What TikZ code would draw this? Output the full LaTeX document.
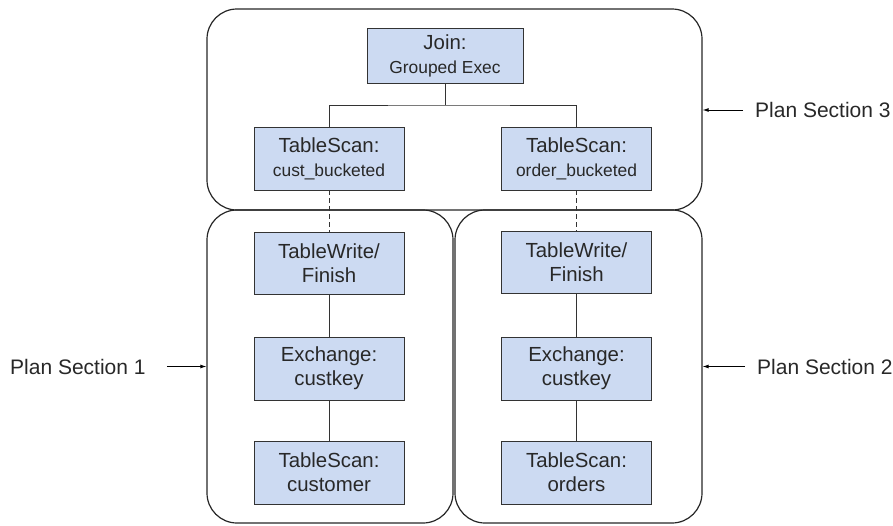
\documentclass[tikz,border=0pt]{standalone}
\usepackage{fontspec}
\setmainfont{Liberation Sans}
\usetikzlibrary{arrows.meta}
\usetikzlibrary{positioning}
\definecolor{opblue}{RGB}{204,218,242}
\definecolor{ink}{RGB}{40,40,40}
\newcommand{\subline}[1]{{\fontsize{17.4}{24}\selectfont #1}}

\begin{document}
\begin{tikzpicture}[x=1pt,y=-1pt,
    opbox/.style={draw=black!80, line width=0.9pt, fill=opblue, text=ink, minimum width=150pt, minimum height=63pt,
                  align=center, inner sep=2pt, font=\fontsize{20.4}{24}\selectfont},
    section/.style={draw=black!85, line width=1.2pt, rounded corners=30pt, inner sep=0pt},
    link/.style={draw=black!80, line width=0.9pt},
    pointer/.style={draw=black, line width=0.9pt, -{Latex[length=6pt,width=4pt]}},
    tag/.style={inner sep=0pt, anchor=west, text=ink, font=\fontsize{21}{24}\selectfont}]
  \useasboundingbox (0,0) rectangle (893,525);

  %plan sections
  \node[section, minimum width=495pt, minimum height=201pt] (sec3) at (454.5,109.5) {};
  \node[section, minimum width=246pt, minimum height=313pt] (sec1) at (330,366.5) {};
  \node[section, minimum width=247pt, minimum height=313pt] (sec2) at (578.5,366.5) {};

  %operators
  \node[opbox, minimum width=156pt, minimum height=55pt] (join) at (445,55.5) {Join:\\\subline{Grouped Exec}};
  \node[opbox] (scanc) at (329,158.5) {TableScan:\\\subline{cust\_bucketed}};
  \node[opbox] (scano) at (576.5,158.5) {TableScan:\\\subline{order\_bucketed}};
  \node[opbox, minimum height=62pt] (writec) at (329,263) {TableWrite/\\Finish};
  \node[opbox, minimum height=62pt] (writeo) at (576.5,262) {TableWrite/\\Finish};
  \node[opbox] (exc) at (329,368.5) {Exchange:\\custkey};
  \node[opbox] (exo) at (576.5,368.5) {Exchange:\\custkey};
  \node[opbox] (tabc) at (329,472.5) {TableScan:\\customer};
  \node[opbox] (tabo) at (576.5,472.5) {TableScan:\\orders};

  %tree lines
  \coordinate (fork) at (445,105);
  \draw[link] (join.south) -- (fork);
  \draw[link] (scanc.north) |- (fork) -| (scano.north);
  \draw[link, dash pattern=on 5pt off 3pt] (scanc.south) -- (writec.north);
  \draw[link, dash pattern=on 5pt off 3pt] (scano.south) -- (writeo.north);
  \draw[link] (writec) -- (exc);
  \draw[link] (exc) -- (tabc);
  \draw[link] (writeo) -- (exo);
  \draw[link] (exo) -- (tabo);

  %labels
  \node[tag] (lab1) at (10,366.5) {Plan Section 1};
  \node[tag] (lab2) at (757,366.5) {Plan Section 2};
  \node[tag] (lab3) at (755,110) {Plan Section 3};
  \draw[pointer] ([xshift=21pt]lab1.east) -- (lab1.east -| sec1.west);
  \draw[pointer] ([xshift=-12pt]lab2.west) -- (lab2.west -| sec2.east);
  \draw[pointer] ([xshift=-12pt]lab3.west) -- (lab3.west -| sec3.east);
\end{tikzpicture}
\end{document}
